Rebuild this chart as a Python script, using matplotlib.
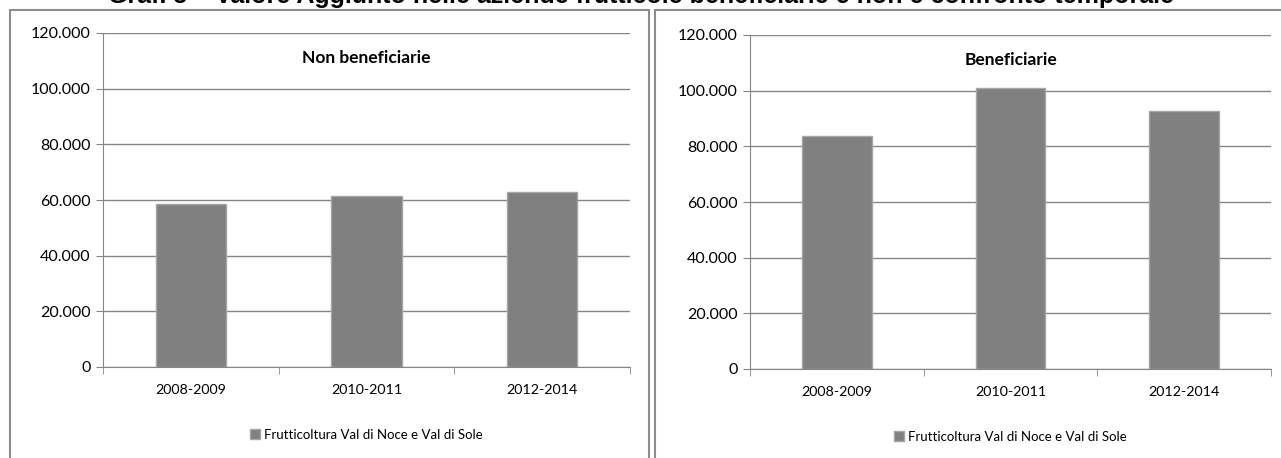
import matplotlib.pyplot as plt
from matplotlib.patches import Rectangle, Patch
from matplotlib.ticker import FuncFormatter, FixedLocator

plt.rcParams['font.family'] = ['Lato', 'DejaVu Sans']

periods = ["2008-2009", "2010-2011", "2012-2014"]
non_benef = [58500, 61400, 63000]
benef = [83600, 100900, 92800]
series_name = "Frutticoltura Val di Noce e Val di Sole"
titles = ["Non beneficiarie", "Beneficiarie"]
main_title = "Graf. 5 \u2013 Valore Aggiunto nelle aziende frutticole beneficiarie e non e confronto temporale"

W, H = 1281, 458
fig = plt.figure(figsize=(W / 100, H / 100), dpi=100)

def fx(px):
    return px / W

def fy(py):
    return 1 - py / H

# panel frames
for x0, x1 in [(10, 649), (655, 1290)]:
    fig.patches.append(Rectangle((fx(x0), fy(470)), fx(x1 - x0), (470 - 10) / H,
                                 transform=fig.transFigure, fill=False,
                                 edgecolor="#8c8c8c", linewidth=1.5))

# title sits mostly above the top edge, as in the source page
fig.text(0.5, fy(3.5), main_title, ha="center", va="baseline", fontsize=18,
         fontweight="bold", family="Liberation Sans")

boxes = [(103, 630, 33, 367), (750, 1271, 35, 369)]
fmt = FuncFormatter(lambda v, p: "0" if v == 0 else f"{int(v):,}".replace(",", "."))

for (l, r, t, b), vals, ttl in zip(boxes, [non_benef, benef], titles):
    ax = fig.add_axes([fx(l), fy(b), fx(r - l), (b - t) / H])
    x = range(len(periods))
    ax.bar(x, vals, width=0.4, color="#808080", edgecolor="#a6a6a6", linewidth=1, zorder=3)
    ax.set_xlim(-0.5, len(periods) - 0.5)
    ax.set_ylim(0, 120000)
    ax.set_yticks(range(0, 120001, 20000))
    ax.yaxis.set_major_formatter(fmt)
    ax.grid(axis="y", color="#868686", linewidth=1, zorder=0)
    ax.set_xticks(list(x))
    ax.set_xticklabels(periods)
    ax.xaxis.set_minor_locator(FixedLocator([-0.5, 0.5, 1.5, 2.5]))
    ax.tick_params(axis="x", which="major", length=0, pad=12, labelsize=10.3)
    ax.tick_params(axis="x", which="minor", length=5, color="#868686", direction="out")
    ax.tick_params(axis="y", length=5, color="#868686", labelsize=11.5, pad=4)
    for s in ["top", "right"]:
        ax.spines[s].set_visible(False)
    for s in ["left", "bottom"]:
        ax.spines[s].set_color("#868686")
    ax.text(0.5, 0.925, ttl, transform=ax.transAxes, ha="center", va="center",
            fontsize=12.5, fontweight="bold")
    ax.legend(handles=[Patch(facecolor="#808080", edgecolor="#a6a6a6", label=series_name)],
              loc="center", bbox_to_anchor=(0.5, (367 - 435) / (b - t)), frameon=False,
              fontsize=9.5, handlelength=0.8, handleheight=0.8, handletextpad=0.3)

fig.savefig("out.png", dpi=100)
